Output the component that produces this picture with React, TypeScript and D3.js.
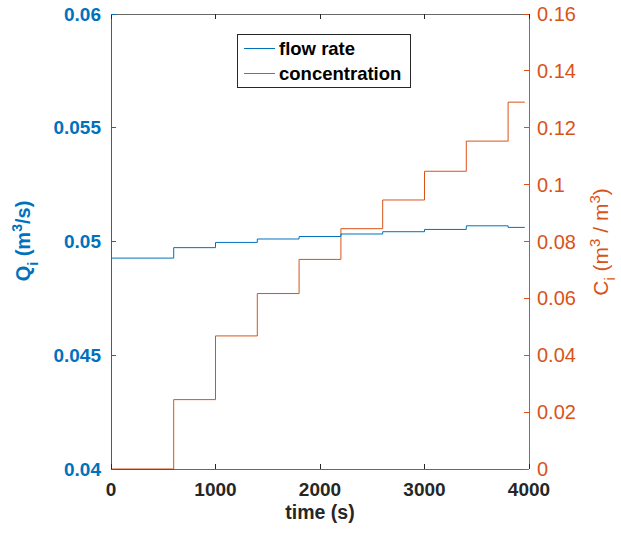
import React, { useEffect, useRef } from 'react';
import * as d3 from 'd3';

// step start times (s) and the end of the record
const stepTimes = [0, 600, 1000, 1400, 1800, 2200, 2600, 3000, 3400, 3800];
const endTime = 3960;

// flow rate Q_i (m^3/s) per step
const flowRate = [0.04927, 0.04973, 0.04996, 0.05011, 0.05022, 0.05033, 0.05043, 0.05053, 0.05069, 0.05062];

// concentration C_i (m^3/m^3) per step
const concentration = [0, 0.0244, 0.0468, 0.0617, 0.0737, 0.0845, 0.0946, 0.1047, 0.1153, 0.129];

const xTicks = [0, 1000, 2000, 3000, 4000];
const leftTicks = [0.04, 0.045, 0.05, 0.055, 0.06];
const rightTicks = [0, 0.02, 0.04, 0.06, 0.08, 0.1, 0.12, 0.14, 0.16];

const BLUE = '#0072BD';
const ORANGE = '#D95319';
const AXIS = '#262626';
const FONT = '"Liberation Sans", Arial, sans-serif';

export default function App() {
  const ref = useRef<SVGSVGElement>(null);

  useEffect(() => {
    const svg = d3.select(ref.current);
    svg.selectAll('*').remove();

    const left = 111;
    const right = 529;
    const top = 14;
    const bottom = 469;
    const tick = 5;

    const x = d3.scaleLinear().domain([0, 4000]).range([left, right]);
    const yL = d3.scaleLinear().domain([0.04, 0.06]).range([bottom, top]);
    const yR = d3.scaleLinear().domain([0, 0.16]).range([bottom, top]);

    // series as step points, last value held to the end time
    const flowPts: [number, number][] = stepTimes.map((t, i) => [t, flowRate[i]]);
    flowPts.push([endTime, flowRate[flowRate.length - 1]]);
    const concPts: [number, number][] = stepTimes.map((t, i) => [t, concentration[i]]);
    concPts.push([endTime, concentration[concentration.length - 1]]);

    const g = svg.append('g');

    g.append('path')
      .datum(concPts)
      .attr('fill', 'none')
      .attr('stroke', ORANGE)
      .attr('stroke-width', 1)
      .attr('d', d3.line<[number, number]>().curve(d3.curveStepAfter).x((d) => x(d[0])).y((d) => yR(d[1])));

    g.append('path')
      .datum(flowPts)
      .attr('fill', 'none')
      .attr('stroke', BLUE)
      .attr('stroke-width', 1)
      .attr('d', d3.line<[number, number]>().curve(d3.curveStepAfter).x((d) => x(d[0])).y((d) => yL(d[1])));

    // box: top and bottom in dark gray, sides in series colours
    const ax = svg.append('g').attr('shape-rendering', 'crispEdges');
    ax.append('line').attr('x1', left).attr('x2', right).attr('y1', top).attr('y2', top).attr('stroke', AXIS).attr('stroke-opacity', 0.7);
    ax.append('line').attr('x1', left).attr('x2', right).attr('y1', bottom).attr('y2', bottom).attr('stroke', AXIS).attr('stroke-opacity', 0.7);
    ax.append('line').attr('x1', left).attr('x2', left).attr('y1', top).attr('y2', bottom).attr('stroke', BLUE);
    ax.append('line').attr('x1', right).attr('x2', right).attr('y1', top).attr('y2', bottom).attr('stroke', ORANGE);

    // x ticks, top and bottom, pointing inside
    xTicks.forEach((t) => {
      ax.append('line').attr('x1', x(t)).attr('x2', x(t)).attr('y1', bottom).attr('y2', bottom - tick).attr('stroke', AXIS);
      ax.append('line').attr('x1', x(t)).attr('x2', x(t)).attr('y1', top).attr('y2', top + tick).attr('stroke', AXIS);
      svg.append('text')
        .attr('x', x(t))
        .attr('y', 495.5)
        .attr('text-anchor', 'middle')
        .attr('font-family', FONT)
        .attr('font-size', 19)
        .attr('font-weight', 'bold')
        .attr('fill', AXIS)
        .text(d3.format('d')(t));
    });

    leftTicks.forEach((t) => {
      ax.append('line').attr('x1', left).attr('x2', left + tick).attr('y1', yL(t)).attr('y2', yL(t)).attr('stroke', BLUE);
      svg.append('text')
        .attr('x', 101)
        .attr('y', yL(t))
        .attr('dy', '0.35em')
        .attr('text-anchor', 'end')
        .attr('font-family', FONT)
        .attr('font-size', 19)
        .attr('font-weight', 'bold')
        .attr('fill', BLUE)
        .text(String(t));
    });

    rightTicks.forEach((t) => {
      ax.append('line').attr('x1', right).attr('x2', right - tick).attr('y1', yR(t)).attr('y2', yR(t)).attr('stroke', ORANGE);
      svg.append('text')
        .attr('x', 537)
        .attr('y', yR(t))
        .attr('dy', '0.35em')
        .attr('text-anchor', 'start')
        .attr('font-family', FONT)
        .attr('font-size', 20)
        .attr('fill', ORANGE)
        .text(String(t));
    });

    // x label
    svg.append('text')
      .attr('x', (left + right) / 2)
      .attr('y', 519)
      .attr('text-anchor', 'middle')
      .attr('font-family', FONT)
      .attr('font-size', 19.5)
      .attr('font-weight', 'bold')
      .attr('fill', AXIS)
      .text('time (s)');

    // left y label
    const ql = svg.append('text')
      .attr('transform', 'translate(30,241) rotate(-90)')
      .attr('text-anchor', 'middle')
      .attr('font-family', FONT)
      .attr('font-size', 20)
      .attr('font-weight', 'bold')
      .attr('fill', BLUE);
    ql.append('tspan').text('Q');
    ql.append('tspan').attr('font-size', 14).attr('dy', 8).text('i');
    ql.append('tspan').attr('dy', -8).text(' (m');
    ql.append('tspan').attr('font-size', 14).attr('dy', -8).text('3');
    ql.append('tspan').attr('dy', 8).text('/s)');

    // right y label
    const cl = svg.append('text')
      .attr('transform', 'translate(608,242) rotate(-90)')
      .attr('text-anchor', 'middle')
      .attr('font-family', FONT)
      .attr('font-size', 21)
      .attr('fill', ORANGE);
    cl.append('tspan').text('C');
    cl.append('tspan').attr('font-size', 15).attr('dy', 7).text('i');
    cl.append('tspan').attr('dy', -7).text(' (m');
    cl.append('tspan').attr('font-size', 15).attr('dy', -8).text('3');
    cl.append('tspan').attr('dy', 8).text(' / m');
    cl.append('tspan').attr('font-size', 15).attr('dy', -8).text('3');
    cl.append('tspan').attr('dy', 8).text(')');

    // legend
    const lg = svg.append('g');
    lg.append('rect')
      .attr('x', 237.5)
      .attr('y', 34.5)
      .attr('width', 173)
      .attr('height', 53)
      .attr('fill', 'white')
      .attr('stroke', AXIS)
      .attr('stroke-width', 1);
    const entries = [
      { label: 'flow rate', color: BLUE, y: 48.5 },
      { label: 'concentration', color: ORANGE, y: 73.5 },
    ];
    entries.forEach((e) => {
      lg.append('line').attr('x1', 244).attr('x2', 275).attr('y1', e.y).attr('y2', e.y).attr('stroke', e.color);
      lg.append('text')
        .attr('x', 279)
        .attr('y', e.y)
        .attr('dy', '0.35em')
        .attr('font-family', FONT)
        .attr('font-size', 18.5)
        .attr('font-weight', 'bold')
        .attr('fill', 'black')
        .text(e.label);
    });
  }, []);

  return (
    <svg
      ref={ref}
      width={621}
      height={534}
      style={{ position: 'absolute', left: 0, top: 0, background: 'white' }}
    />
  );
}
